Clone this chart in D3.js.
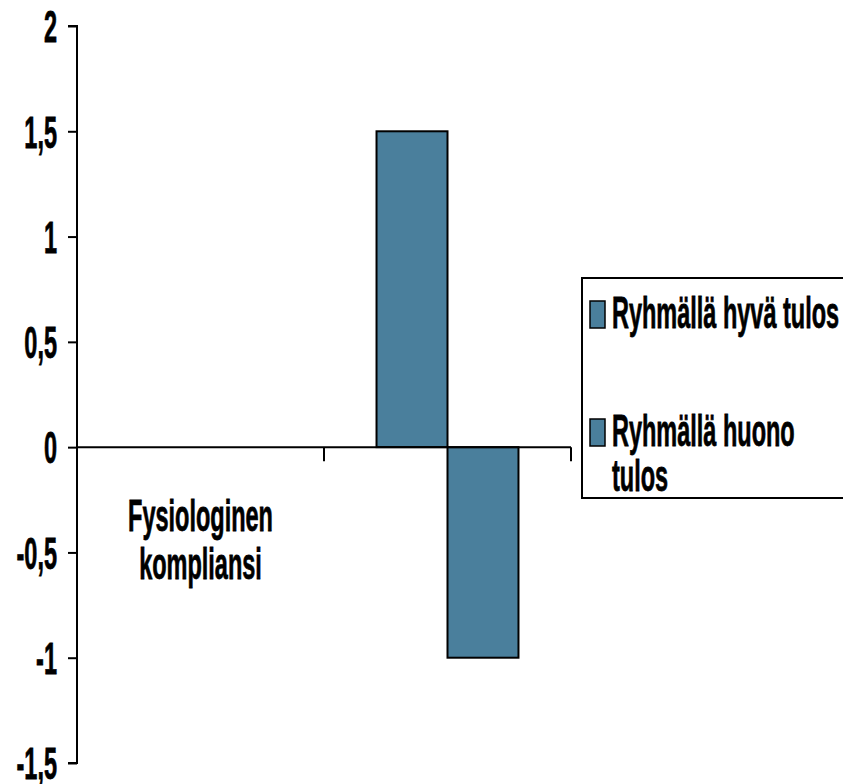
<!DOCTYPE html>
<html>
<head>
<meta charset="utf-8">
<script src="https://cdn.jsdelivr.net/npm/d3@7"></script>
<style>
  html, body { margin: 0; padding: 0; background: #fff; }
  svg { display: block; }
  text { font-family: "Liberation Sans", Arial, sans-serif; font-weight: bold; fill: #000; stroke: #000; stroke-width: 0.5px; }
</style>
</head>
<body>
<svg id="chart" width="843" height="784"></svg>
<script>
// Categories along the x axis and the two series of values
const categories = ["Fysiologinen kompliansi", ""];
const categoryLines = [["Fysiologinen", "kompliansi"], []];
const seriesNames = ["Ryhmällä hyvä tulos", "Ryhmällä huono tulos"];
const legendLines = [["Ryhmällä hyvä tulos"], ["Ryhmällä huono", "tulos"]];
const goodValues = [null, 1.5];
const poorValues = [null, -1];
const yTicks = [-1.5, -1, -0.5, 0, 0.5, 1, 1.5, 2];

const barColor = "#4a7f9c";
const fontSize = 29;
// tall, condensed lettering
const sx = 0.81, sy = 1.55;
const squeeze = `scale(${sx},${sy})`;

const svg = d3.select("#chart");

const y = d3.scaleLinear().domain([-1.5, 2]).range([763, 26]);
const x = d3.scaleBand().domain(categories).range([77, 571]).padding(0);
const xs = d3.scaleBand().domain(seriesNames).range([0, x.bandwidth()])
  .paddingInner(0).paddingOuter(0.74);

// Bars
const rows = categories.map((c, i) => ({ cat: c, values: [goodValues[i], poorValues[i]] }));
const barData = [];
rows.forEach(r => r.values.forEach((v, j) => {
  if (v !== null) barData.push({ cat: r.cat, series: seriesNames[j], value: v });
}));
svg.append("g").selectAll("rect").data(barData).join("rect")
  .attr("x", d => x(d.cat) + xs(d.series))
  .attr("width", xs.bandwidth())
  .attr("y", d => y(Math.max(0, d.value)))
  .attr("height", d => Math.abs(y(d.value) - y(0)))
  .attr("fill", barColor)
  .attr("stroke", "#000")
  .attr("stroke-width", 2);

// Y axis
const yAxis = d3.axisLeft(y).tickValues(yTicks).tickSize(9).tickPadding(11)
  .tickFormat(d => String(d).replace(".", ","));
const gy = svg.append("g").attr("transform", "translate(77,0)").call(yAxis);
gy.attr("font-family", null).attr("font-size", null);
gy.select(".domain").attr("stroke", "#000").attr("stroke-width", 2)
  .attr("d", `M-9,${y(2)}H0V${y(-1.5)}H-9`);
gy.selectAll(".tick line").attr("stroke", "#000").attr("stroke-width", 2);
gy.selectAll(".tick text")
  .attr("font-size", fontSize)
  .attr("fill", null)
  .attr("dy", null)
  .attr("x", null)
  .attr("y", 0.35 * fontSize)
  .attr("transform", `translate(-20,0) ${squeeze}`);

// X axis line at zero with ticks on the category boundaries
const gx = svg.append("g");
gx.append("line").attr("x1", x.range()[0]).attr("x2", x.range()[1])
  .attr("y1", y(0)).attr("y2", y(0)).attr("stroke", "#000").attr("stroke-width", 2);
const bounds = categories.map(c => x(c) + x.bandwidth());
gx.selectAll("line.tk").data(bounds).join("line").attr("class", "tk")
  .attr("x1", d => d).attr("x2", d => d)
  .attr("y1", y(0)).attr("y2", y(0) + 14)
  .attr("stroke", "#000").attr("stroke-width", 2);

// Category labels
categories.forEach((c, i) => {
  categoryLines[i].forEach((line, k) => {
    svg.append("text")
      .attr("transform", `translate(${x(c) + x.bandwidth() / 2},${531 + k * 48}) ${squeeze}`)
      .attr("text-anchor", "middle")
      .attr("font-size", fontSize)
      .text(line);
  });
});

// Legend
const legend = svg.append("g");
legend.append("rect").attr("x", 582).attr("y", 278).attr("width", 280).attr("height", 220)
  .attr("fill", "#fff").attr("stroke", "#000").attr("stroke-width", 2);
const legendRowY = [328, 446];
seriesNames.forEach((s, i) => {
  legend.append("rect").attr("x", 590).attr("y", legendRowY[i] - 27)
    .attr("width", 15).attr("height", 27)
    .attr("fill", barColor).attr("stroke", "#000").attr("stroke-width", 1.5);
  legendLines[i].forEach((line, k) => {
    legend.append("text")
      .attr("transform", `translate(612,${legendRowY[i] + k * 45}) ${squeeze}`)
      .attr("font-size", fontSize)
      .text(line);
  });
});
</script>
</body>
</html>
